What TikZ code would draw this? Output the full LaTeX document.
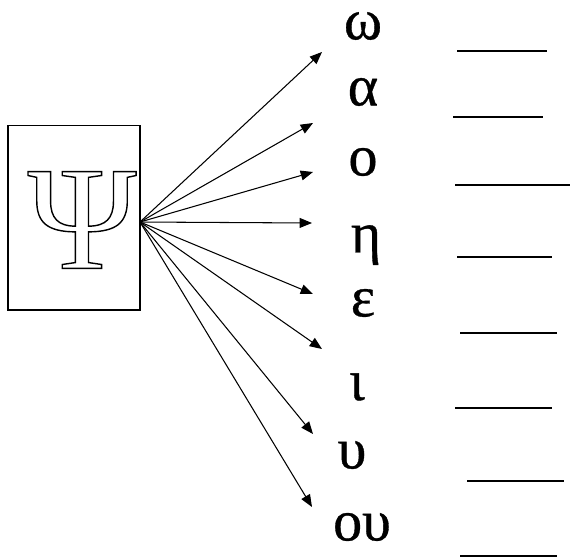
\documentclass[tikz,border=0pt]{standalone}
\usepackage{fontspec}
\setmainfont{Liberation Serif}
\usepackage{tikz}
\usetikzlibrary{arrows.meta}

\newcommand{\hollowtext}[1]{\special{pdf:literal direct 1 Tr 0.8 w}#1\special{pdf:literal direct 0 Tr}}

\tikzset{
  greek/.style={inner sep=0pt,font=\fontsize{33}{36}\selectfont\addfontfeatures{FakeBold=0.6}},
  pointer/.style={-{Triangle[length=7pt,width=5.6pt]},line width=0.6pt},
  blank/.style={line width=1.1pt}
}

\begin{document}
\begin{tikzpicture}[x=0.02cm,y=-0.02cm]
    \useasboundingbox (0,0) rectangle (571,559);
    % Box with the letter
    \node[draw,line width=0.6pt,minimum width=2.64cm,minimum height=3.7cm,inner sep=0pt] (box) at (74,217.5) {};
    \node[inner sep=0pt,font=\fontsize{84}{90}\selectfont] (psi) at (82,220) {\hollowtext{Ψ}};
    \coordinate (src) at (140,222);

    % Letters
    \node[greek] (omega) at (363,26) {ω};
    \node[greek] (alpha) at (363,92) {α};
    \node[greek] (omicron) at (363,162) {ο};
    \node[greek] (eta) at (366,245) {η};
    \node[greek] (epsilon) at (363,303) {ε};
    \node[greek] (iota) at (357,387) {ι};
    \node[greek] (upsilon) at (352,455) {υ};
    \node[greek] (ou) at (362,527) {ου};

    % Arrow tips
    \coordinate (t1) at (322,52);
    \coordinate (t2) at (313,123);
    \coordinate (t3) at (313,172);
    \coordinate (t4) at (312,223);
    \coordinate (t5) at (313,294);
    \coordinate (t6) at (322,349);
    \coordinate (t7) at (313,434);
    \coordinate (t8) at (312,507);
    \foreach \t in {t1,t2,t3,t4,t5,t6,t7,t8}
        \draw[pointer] (src) -- (\t);

    % Blanks to fill in
    \draw[blank] (457,51) -- (547,51);
    \draw[blank] (453,117) -- (543,117);
    \draw[blank] (455,185) -- (570,185);
    \draw[blank] (457,257) -- (552,257);
    \draw[blank] (460,333) -- (557,333);
    \draw[blank] (455,408) -- (552,408);
    \draw[blank] (467,481) -- (564,481);
    \draw[blank] (460,556) -- (557,556);
\end{tikzpicture}
\end{document}
